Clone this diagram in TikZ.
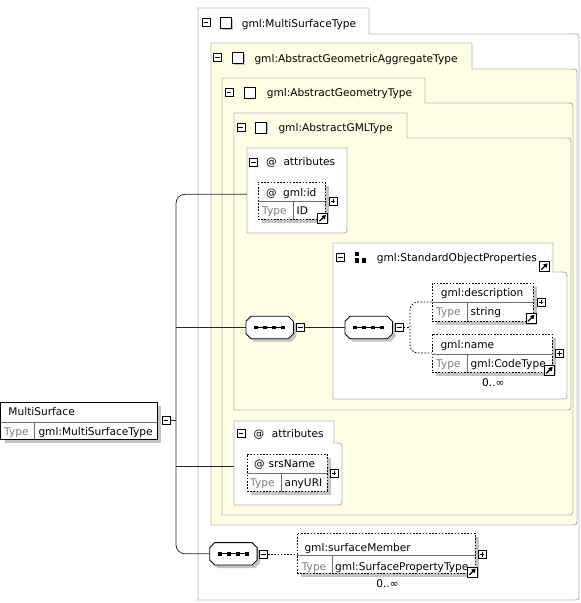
\documentclass[tikz,border=0pt]{standalone}
\usepackage{fontspec}
\setmainfont{DejaVu Sans}
\usetikzlibrary{shadows,arrows.meta}
\definecolor{boxgray}{RGB}{182,182,182}
\definecolor{paleyellow}{RGB}{255,255,230}
\definecolor{shadowgray}{RGB}{196,196,196}
\definecolor{typegray}{RGB}{125,125,125}
\definecolor{divgray}{RGB}{110,110,110}
\definecolor{connblack}{RGB}{40,40,40}
\tikzset{
  boxline/.style={draw=boxgray, line width=0.9pt},
  conn/.style={draw=connblack, line width=0.8pt},
  dconn/.style={draw=black, line width=0.8pt, dash pattern=on 1.6pt off 1.6pt},
  elembox/.style={rectangle, draw=black, line width=0.8pt, dash pattern=on 1.6pt off 1.6pt, fill=white, inner sep=0pt,
    general shadow={fill=shadowgray, shadow xshift=4pt, shadow yshift=-4pt}},
  solidbox/.style={rectangle, draw=black, line width=0.9pt, fill=white, inner sep=0pt,
    general shadow={fill=shadowgray, shadow xshift=4pt, shadow yshift=-4pt}},
  divider/.style={draw=divgray, line width=0.6pt},
  lbl/.style={anchor=base west, inner sep=0pt},
  typelbl/.style={lbl, text=typegray},
  multlbl/.style={anchor=base, inner sep=0pt},
  minusicon/.style={rectangle, draw=black, fill=white, line width=0.6pt, minimum size=8pt, inner sep=0pt,
    path picture={\draw[line width=0.6pt] ([xshift=1.6pt]path picture bounding box.west) -- ([xshift=-1.6pt]path picture bounding box.east);}},
  plusicon/.style={rectangle, draw=black, fill=white, line width=0.6pt, minimum size=8pt, inner sep=0pt,
    path picture={\draw[line width=0.6pt] ([xshift=1.6pt]path picture bounding box.west) -- ([xshift=-1.6pt]path picture bounding box.east);
      \draw[line width=0.6pt] ([yshift=-1.6pt]path picture bounding box.north) -- ([yshift=1.6pt]path picture bounding box.south);}},
  jumpicon/.style={rectangle, draw=black, fill=white, line width=0.7pt, minimum size=10pt, inner sep=0pt,
    path picture={\draw[line width=1.3pt, -{Triangle[length=4pt,width=4.5pt]}] ([shift={(2pt,2pt)}]path picture bounding box.south west) -- ([shift={(-1.6pt,-1.6pt)}]path picture bounding box.north east);}},
  cmpicon/.style={rectangle, draw=black, fill=white, line width=0.8pt, minimum size=11pt, inner sep=0pt,
    general shadow={fill=shadowgray, shadow xshift=1.2pt, shadow yshift=-1.2pt}},
  iconbase/.style={rectangle, draw=none, minimum size=12pt, inner sep=0pt},
  seqbase/.style={rectangle, draw=none, minimum width=47pt, minimum height=22pt, inner sep=0pt}
}
\newcommand\typebox[7]{%
  \draw[boxline, fill=#7] (#1,#2) -- (#3,#2) -- (#3,#4) -- ({#5-6},#4) .. controls (#5,#4) .. (#5,{#4+6})
    -- (#5,{#6-6}) .. controls (#5,#6) .. ({#5-6},#6) -- (#1,#6) -- cycle;}
\newcommand\seqdraw[1]{%
  \fill[shadowgray, transform canvas={shift={(3pt,-3pt)}}] ([xshift=5pt]#1.north west) -- ([xshift=-5pt]#1.north east) -- ([yshift=-5pt]#1.north east) -- ([yshift=5pt]#1.south east) -- ([xshift=-5pt]#1.south east) -- ([xshift=5pt]#1.south west) -- ([yshift=5pt]#1.south west) -- ([yshift=-5pt]#1.north west) -- cycle;
  \draw[line width=0.8pt, fill=white] ([xshift=5pt]#1.north west) -- ([xshift=-5pt]#1.north east) -- ([yshift=-5pt]#1.north east) -- ([yshift=5pt]#1.south east) -- ([xshift=-5pt]#1.south east) -- ([xshift=5pt]#1.south west) -- ([yshift=5pt]#1.south west) -- ([yshift=-5pt]#1.north west) -- cycle;
  \draw[line width=0.8pt] ([xshift=-13.5pt]#1.center) -- ([xshift=13.5pt]#1.center);
  \foreach \dx in {-13.5,-4.5,4.5,13.5} {\fill ([xshift=\dx pt]#1.center) +(-1.8pt,-1.8pt) rectangle +(1.8pt,1.8pt);}
}
\begin{document}
\begin{tikzpicture}[x=1pt,y=-1pt, font=\fontsize{10.6}{12}\selectfont]
\useasboundingbox (0,0) rectangle (581,603);
% ---- containers ----
\typebox{198}{8}{369}{34}{579}{600}{white}
\typebox{211}{43}{472}{69}{577}{525}{paleyellow}
\typebox{222}{78}{425}{103}{573}{515}{paleyellow}
\typebox{234}{113}{407}{138}{571}{410}{paleyellow}
\draw[boxline, fill=white] (247,148) -- (347,148) -- (347,227) .. controls (347,233) .. (341,233) -- (247,233) -- cycle;
\typebox{333}{243}{553}{272}{567}{399}{white}
\typebox{234}{421}{334}{443}{342}{505}{white}

% ---- container headers ----
\node[minusicon] (msMin) at (206,22.5) {};
\node[cmpicon] (msSq) at (226,23) {};
\node[lbl] (msT) at (241.7,27) {gml:MultiSurfaceType};
\node[minusicon] (agMin) at (217.5,57.5) {};
\node[cmpicon] (agSq) at (238,58) {};
\node[lbl] (agT) at (254.3,62.5) {gml:AbstractGeometricAggregateType};
\node[minusicon] (geoMin) at (229,92.5) {};
\node[cmpicon] (geoSq) at (249.5,92.7) {};
\node[lbl] (geoT) at (266.7,96.7) {gml:AbstractGeometryType};
\node[minusicon] (gmlMin) at (240.8,127.5) {};
\node[cmpicon] (gmlSq) at (261.2,127.7) {};
\node[lbl] (gmlT) at (278.3,131.7) {gml:AbstractGMLType};

% ---- attributes 1 ----
\node[minusicon] (a1Min) at (253.7,162) {};
\node[lbl] (a1At) at (266,165.5) {@};
\node[lbl] (a1T) at (283.3,165.5) {attributes};
\coordinate (a1in) at (247,194.3);
\node[elembox, minimum width=67pt, minimum height=37pt] (gid) at (291.5,200.5) {};
\draw[divider] (258,200.8) -- (325,200.8);
\draw[divider] (293,200.8) -- (293,219);
\node[lbl] (gidAt) at (266,196.5) {@};
\node[lbl] (gidN) at (283,196.5) {gml:id};
\node[typelbl] (gidTy) at (262,214.7) {Type};
\node[lbl] (gidTv) at (296.5,214.7) {ID};
\node[plusicon] (gidPl) at (333,201) {};
\node[jumpicon] (gidJ) at (322.5,218.3) {};

% ---- standard object properties ----
\node[minusicon] (sopMin) at (340.3,257.7) {};
\node[iconbase] (sopG) at (361,257.7) {};
\fill (sopG.north west) rectangle ++(4.4,4.4);
\fill ([yshift=-6.8pt]sopG.north west) rectangle ++(4.4,4.4);
\fill ([shift={(6.8pt,-6.8pt)}]sopG.north west) rectangle ++(4.6,4.4);
\node[lbl] (sopT) at (376.7,261.2) {gml:StandardObjectProperties};
\node[jumpicon] (sopJ) at (544.3,266.7) {};

% ---- sequences ----
\node[seqbase] (seq1) at (269.7,327.5) {};
\seqdraw{seq1}
\node[minusicon] (seq1Min) at (300.5,327.5) {};
\node[seqbase] (seq2) at (368.7,327.5) {};
\seqdraw{seq2}
\node[minusicon] (seq2Min) at (399.5,327.5) {};
\coordinate (brk) at (410,327.5);

% ---- description ----
\node[elembox, minimum width=101pt, minimum height=38pt] (desc) at (482.5,302) {};
\draw[divider] (432,302.7) -- (533,302.7);
\draw[divider] (467,302.7) -- (467,321);
\node[lbl] (descN) at (440.7,296.5) {gml:description};
\node[typelbl] (descTy) at (436,315.7) {Type};
\node[lbl] (descTv) at (470.5,315.7) {string};
\node[plusicon] (descPl) at (541,302) {};
\node[jumpicon] (descJ) at (531,318.3) {};

% ---- name ----
\node[elembox, minimum width=120pt, minimum height=38pt] (name) at (492,353) {};
\draw[divider] (432,354) -- (552,354);
\draw[divider] (467,354) -- (467,372);
\node[lbl] (nameN) at (440.3,348.5) {gml:name};
\node[typelbl] (nameTy) at (436,367.3) {Type};
\node[lbl] (nameTv) at (470.5,367.3) {gml:CodeType};
\node[plusicon] (namePl) at (559.7,353.7) {};
\node[jumpicon] (nameJ) at (549.3,370.3) {};
\node[multlbl] (nameM) at (493.3,386.5) {0..∞};

% ---- MultiSurface ----
\node[solidbox, minimum width=156.5pt, minimum height=37pt] (ms) at (78.75,420.5) {};
\draw[divider] (0.5,421.8) -- (157,421.8);
\draw[divider] (34,421.8) -- (34,439);
\node[lbl] (msN) at (8.3,415.3) {MultiSurface};
\node[typelbl] (msTy) at (4,435) {Type};
\node[lbl] (msTv) at (38.3,435) {gml:MultiSurfaceType};
\node[minusicon] (msRootMin) at (166,420.3) {};
\coordinate (trunkMS) at (176,420.3);

% ---- attributes 2 ----
\node[minusicon] (a2Min) at (241,433) {};
\node[lbl] (a2At) at (253.3,437.3) {@};
\node[lbl] (a2T) at (271.7,437.3) {attributes};
\coordinate (a2in) at (234,466.7);
\node[elembox, minimum width=80pt, minimum height=37pt] (srs) at (287,472.5) {};
\draw[divider] (247,473.3) -- (327,473.3);
\draw[divider] (281,473.3) -- (281,491);
\node[lbl] (srsAt) at (254,467.3) {@};
\node[lbl] (srsN) at (268.3,467.3) {srsName};
\node[typelbl] (srsTy) at (250,486.3) {Type};
\node[lbl] (srsTv) at (284.3,486.3) {anyURI};
\node[plusicon] (srsPl) at (334,473) {};

% ---- surfaceMember ----
\node[seqbase] (seq3) at (233.4,553.8) {};
\seqdraw{seq3}
\node[minusicon] (seq3Min) at (263.7,554.3) {};
\node[elembox, minimum width=178pt, minimum height=40pt] (sm) at (386,553) {};
\draw[divider] (297,555) -- (475,555);
\draw[divider] (332,555) -- (332,573);
\node[lbl] (smN) at (304.3,551.5) {gml:surfaceMember};
\node[typelbl] (smTy) at (301.7,570.7) {Type};
\node[lbl] (smTv) at (335,570.7) {gml:SurfacePropertyType};
\node[plusicon] (smPl) at (482,554.7) {};
\node[jumpicon] (smJ) at (472.3,572) {};
\node[multlbl] (smM) at (387.5,587.3) {0..∞};

% ---- connectors ----
\draw[conn] (msRootMin.east) -- (trunkMS);
\draw[conn, rounded corners=9pt] (a1in) -| (trunkMS) |- (seq3.west);
\draw[conn] (trunkMS |- seq1.west) -- (seq1.west);
\draw[conn] (trunkMS |- a2in) -- (a2in);
\draw[conn] (seq1Min.east) -- (seq2.west);
\draw[dconn] (seq2Min.east) -- (brk);
\draw[dconn, rounded corners=8pt] (desc.west) -| (brk) |- (name.west);
\draw[dconn] (seq3Min.east) -- (seq3Min.east -| sm.west);
\end{tikzpicture}
\end{document}
